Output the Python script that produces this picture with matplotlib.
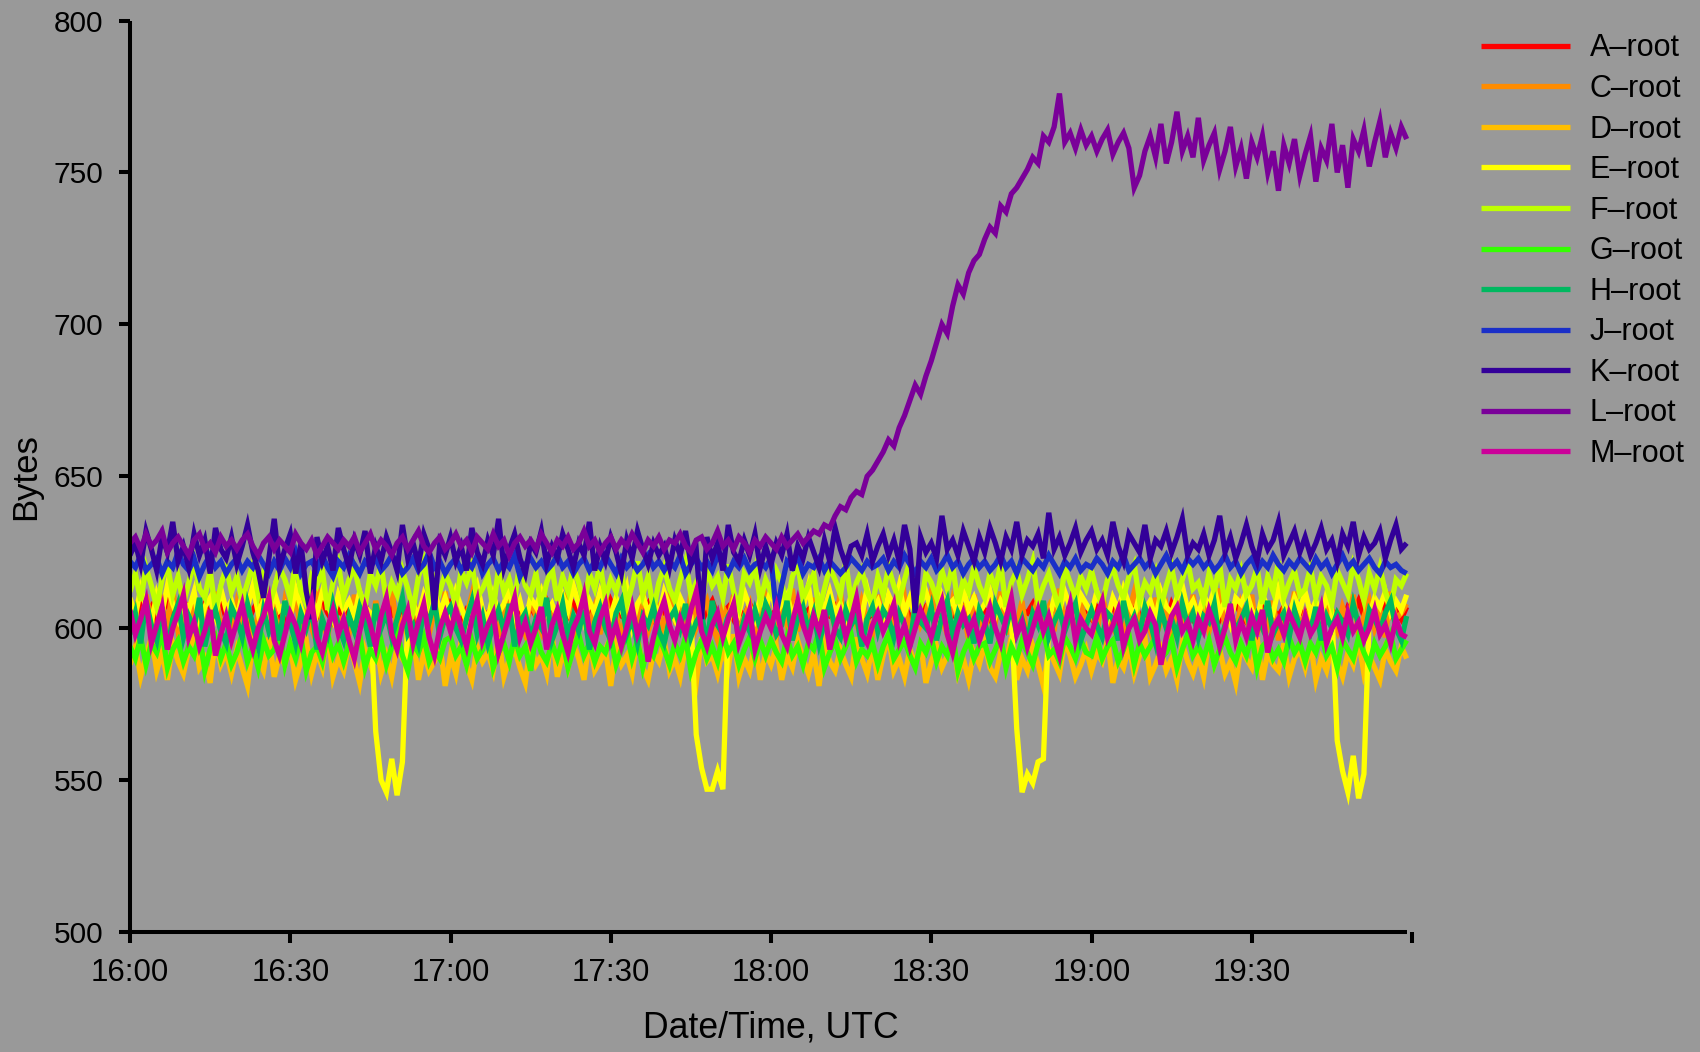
import matplotlib
matplotlib.use("Agg")
import matplotlib.pyplot as plt
import numpy as np

plt.rcParams["font.family"] = ["Liberation Sans", "DejaVu Sans"]

# ─────────────────────────────────────────────────────────────
# Datos (una muestra por minuto desde las 16:00 UTC)
# ─────────────────────────────────────────────────────────────

x_ticks = [0, 30, 60, 90, 120, 150, 180, 210, 240]
x_tick_labels = ["16:00", "16:30", "17:00", "17:30", "18:00", "18:30", "19:00", "19:30", ""]
y_ticks = [500, 550, 600, 650, 700, 750, 800]

a_root = [
    606, 603, 608, 604, 607, 602, 605, 609, 604, 606, 601, 607, 605, 603, 608, 604, 606, 610, 603, 605,
    607, 604, 602, 606, 609, 603, 605, 607, 604, 601, 606, 608, 605, 603, 607, 604, 609, 605, 602, 606,
    604, 607, 603, 605, 608, 602, 606, 604, 609, 605, 603, 607, 604, 606, 601, 605, 608, 604, 606, 603,
    608, 605, 602, 606, 604, 609, 603, 605, 607, 604, 602, 606, 608, 605, 603, 607, 604, 606, 609, 605,
    603, 606, 604, 608, 605, 602, 607, 604, 606, 603, 609, 605, 604, 607, 602, 606, 605, 608, 603, 606,
    605, 608, 604, 606, 603, 607, 605, 602, 606, 609, 604, 605, 607, 603, 606, 604, 608, 605, 602, 607,
    604, 606, 609, 605, 603, 607, 604, 606, 602, 608, 605, 604, 607, 603, 605, 609, 604, 606, 603, 605,
    607, 604, 606, 602, 605, 608, 603, 606, 604, 607, 605, 602, 606, 609, 604, 605, 607, 603, 606, 604,
    606, 603, 607, 605, 609, 604, 602, 606, 605, 608, 603, 606, 604, 607, 605, 602, 608, 604, 606, 605,
    603, 607, 605, 604, 608, 602, 606, 605, 609, 604, 603, 607, 605, 606, 602, 608, 604, 605, 607, 603,
    605, 608, 604, 606, 603, 607, 605, 609, 604, 602, 606, 605, 608, 603, 606, 604, 607, 605, 602, 606,
    604, 607, 605, 603, 608, 606, 604, 602, 607, 605, 609, 604, 606, 603, 605, 608, 604, 606, 603, 607,
]

c_root = [
    600, 606, 598, 611, 603, 597, 608, 601, 613, 599, 605, 596, 609, 602, 607, 598, 612, 600, 604, 597,
    608, 601, 610, 598, 604, 612, 599, 606, 597, 609, 603, 611, 598, 605, 600, 613, 602, 597, 607, 601,
    604, 598, 611, 602, 607, 596, 609, 601, 605, 613, 599, 603, 597, 610, 602, 608, 598, 606, 600, 612,
    601, 607, 597, 604, 611, 599, 606, 602, 609, 596, 605, 612, 600, 603, 598, 610, 604, 599, 608, 602,
    606, 600, 612, 597, 603, 609, 601, 607, 598, 611, 602, 605, 596, 608, 603, 600, 613, 599, 604, 607,
    598, 610, 603, 606, 597, 612, 600, 605, 609, 601, 596, 607, 603, 611, 599, 604, 608, 597, 602, 610,
    603, 597, 608, 601, 613, 599, 606, 602, 610, 598, 604, 607, 600, 612, 596, 605, 601, 609, 603, 598,
    611, 602, 606, 599, 604, 610, 597, 608, 601, 605, 612, 600, 603, 598, 609, 602, 606, 596, 611, 604,
    599, 607, 602, 612, 598, 605, 601, 609, 596, 604, 610, 603, 607, 599, 613, 601, 605, 598, 608, 602,
    606, 598, 611, 603, 600, 608, 597, 605, 612, 601, 604, 599, 610, 602, 607, 596, 609, 603, 600, 611,
    602, 609, 599, 606, 613, 600, 604, 597, 608, 603, 611, 598, 605, 601, 609, 596, 606, 602, 612, 599,
    605, 601, 608, 597, 610, 603, 599, 607, 602, 611, 598, 604, 609, 600, 606, 597, 612, 603, 605, 608,
]

d_root = [
    588, 594, 584, 591, 597, 586, 592, 583, 595, 589, 585, 593, 598, 587, 590, 582, 596, 588, 592, 585,
    593, 587, 581, 595, 590, 586, 597, 584, 591, 588, 594, 583, 589, 596, 585, 592, 587, 599, 584, 590,
    586, 595, 589, 582, 593, 588, 597, 585, 591, 584, 594, 590, 587, 598, 583, 592, 586, 589, 595, 581,
    591, 585, 596, 588, 583, 594, 589, 592, 586, 597, 584, 590, 593, 587, 582, 595, 588, 591, 585, 598,
    584, 592, 587, 595, 590, 583, 596, 586, 589, 593, 581, 594, 588, 591, 585, 597, 587, 583, 592, 589,
    596, 586, 590, 584, 594, 588, 582, 597, 589, 591, 585, 593, 587, 598, 584, 590, 586, 595, 583, 592,
    588, 594, 583, 591, 587, 596, 590, 585, 592, 581, 595, 589, 586, 593, 588, 584, 597, 590, 585, 594,
    583, 591, 597, 586, 590, 584, 593, 588, 595, 582, 589, 594, 587, 591, 596, 585, 590, 583, 592, 588,
    595, 587, 584, 592, 589, 597, 583, 590, 586, 594, 588, 581, 593, 589, 585, 596, 591, 584, 588, 593,
    586, 592, 589, 596, 582, 590, 587, 594, 585, 591, 597, 584, 588, 593, 586, 590, 583, 595, 589, 585,
    591, 584, 596, 588, 593, 585, 589, 582, 594, 590, 587, 597, 583, 592, 588, 586, 595, 584, 590, 593,
    587, 595, 583, 590, 586, 594, 589, 584, 592, 588, 596, 585, 591, 587, 583, 593, 589, 586, 594, 590,
]

e_root = [
    610, 604, 613, 607, 602, 611, 605, 614, 608, 603, 609, 606, 612, 601, 607, 610, 604, 613, 606, 609,
    603, 611, 607, 614, 605, 609, 602, 612, 606, 608, 604, 613, 607, 601, 610, 605, 612, 608, 603, 611,
    606, 609, 604, 612, 607, 605, 566, 550, 546, 557, 545, 556, 603, 608, 604, 611, 606, 613, 605, 610,
    604, 612, 607, 602, 609, 614, 606, 603, 611, 605, 608, 613, 604, 609, 602, 610, 607, 612, 605, 608,
    603, 611, 606, 614, 608, 602, 609, 605, 612, 607, 604, 610, 606, 613, 601, 608, 611, 605, 609, 604,
    612, 607, 603, 610, 606, 604, 565, 554, 547, 547, 553, 547, 602, 609, 605, 612, 607, 603, 610, 606,
    613, 605, 608, 611, 604, 609, 607, 614, 602, 610, 606, 612, 605, 608, 603, 611, 607, 604, 613, 606,
    609, 603, 611, 607, 614, 605, 610, 604, 608, 612, 606, 603, 611, 607, 609, 604, 613, 606, 610, 605,
    608, 612, 604, 609, 606, 603, 567, 546, 552, 549, 556, 557, 602, 610, 606, 612, 607, 604, 611, 608,
    605, 612, 607, 603, 610, 606, 613, 608, 604, 611, 606, 609, 603, 612, 607, 605, 610, 614, 606, 609,
    604, 611, 607, 613, 605, 609, 602, 610, 608, 612, 606, 603, 611, 607, 605, 613, 608, 604, 610, 606,
    612, 605, 609, 603, 611, 606, 563, 553, 546, 558, 544, 552, 604, 610, 607, 612, 605, 609, 606, 611,
]

f_root = [
    612, 618, 609, 620, 614, 607, 616, 621, 611, 617, 608, 615, 622, 613, 610, 619, 606, 614, 620, 612,
    617, 609, 615, 621, 611, 618, 607, 613, 620, 616, 610, 622, 612, 608, 617, 614, 619, 606, 615, 621,
    610, 616, 620, 612, 607, 618, 614, 621, 609, 615, 611, 619, 613, 606, 617, 622, 610, 616, 612, 618,
    614, 608, 619, 615, 621, 610, 613, 617, 606, 620, 612, 616, 609, 622, 614, 611, 618, 607, 615, 620,
    609, 617, 612, 620, 615, 607, 618, 613, 621, 610, 616, 612, 619, 608, 614, 622, 611, 617, 606, 615,
    620, 613, 609, 616, 622, 611, 615, 608, 619, 614, 617, 610, 621, 612, 607, 618, 615, 620, 609, 616,
    612, 619, 615, 607, 617, 621, 610, 614, 618, 606, 613, 620, 616, 611, 622, 609, 615, 619, 612, 608,
    617, 611, 620, 614, 609, 616, 622, 612, 607, 618, 615, 610, 619, 613, 621, 608, 616, 612, 620, 614,
    610, 618, 613, 621, 607, 615, 619, 611, 616, 622, 609, 614, 618, 612, 606, 620, 615, 610, 617, 613,
    619, 612, 608, 616, 620, 614, 610, 617, 621, 609, 615, 612, 618, 607, 614, 620, 611, 616, 622, 613,
    615, 609, 618, 612, 621, 607, 616, 613, 619, 611, 614, 620, 608, 617, 612, 622, 610, 615, 619, 611,
    613, 620, 610, 617, 614, 608, 619, 615, 611, 621, 616, 609, 618, 613, 620, 612, 607, 616, 614, 618,
]

g_root = [
    594, 590, 597, 588, 595, 592, 599, 587, 593, 596, 589, 594, 591, 598, 586, 593, 597, 590, 595, 588,
    592, 598, 589, 594, 587, 596, 591, 593, 599, 588, 595, 590, 597, 586, 592, 594, 589, 598, 591, 595,
    589, 595, 592, 598, 587, 593, 590, 596, 588, 594, 599, 591, 586, 595, 592, 597, 589, 593, 590, 596,
    597, 591, 594, 588, 596, 590, 593, 599, 587, 592, 595, 589, 597, 591, 594, 586, 598, 592, 589, 595,
    590, 596, 587, 593, 598, 591, 595, 589, 594, 592, 597, 588, 593, 599, 590, 596, 587, 594, 591, 597,
    593, 588, 595, 591, 597, 586, 592, 596, 590, 594, 589, 598, 592, 595, 588, 593, 597, 590, 596, 591,
    596, 592, 589, 597, 591, 594, 588, 595, 593, 599, 587, 592, 596, 590, 594, 598, 589, 593, 591, 595,
    588, 594, 598, 590, 593, 596, 591, 587, 595, 592, 597, 589, 594, 591, 598, 586, 592, 596, 590, 594,
    595, 589, 593, 597, 587, 594, 590, 596, 592, 588, 595, 599, 591, 593, 589, 597, 594, 590, 596, 592,
    591, 597, 590, 594, 596, 589, 593, 598, 588, 595, 591, 594, 597, 590, 592, 596, 587, 593, 598, 591,
    594, 590, 596, 588, 593, 597, 592, 589, 595, 591, 598, 587, 594, 596, 590, 593, 589, 597, 592, 595,
    589, 595, 592, 598, 591, 594, 587, 596, 593, 590, 597, 592, 588, 595, 591, 594, 598, 590, 593, 596,
]

h_root = [
    598, 605, 595, 609, 601, 596, 607, 593, 603, 608, 597, 604, 600, 610, 594, 602, 606, 599, 595, 607,
    603, 597, 608, 601, 594, 606, 599, 604, 596, 609, 602, 595, 605, 600, 607, 593, 603, 598, 608, 601,
    596, 604, 599, 607, 602, 594, 608, 600, 605, 597, 603, 610, 598, 601, 595, 606, 602, 609, 597, 604,
    607, 600, 596, 603, 609, 598, 604, 595, 601, 606, 599, 608, 594, 602, 605, 597, 603, 600, 610, 596,
    601, 608, 597, 604, 599, 606, 593, 602, 607, 600, 596, 605, 609, 598, 603, 595, 604, 601, 607, 599,
    595, 603, 606, 600, 608, 597, 602, 605, 594, 609, 601, 598, 604, 607, 596, 603, 599, 606, 600, 608,
    604, 598, 601, 609, 596, 603, 607, 599, 605, 595, 602, 608, 600, 597, 606, 601, 604, 594, 603, 607,
    599, 606, 603, 597, 605, 601, 594, 608, 602, 600, 607, 596, 604, 609, 598, 605, 601, 603, 595, 606,
    602, 595, 608, 604, 600, 607, 598, 603, 596, 605, 601, 609, 597, 602, 606, 599, 604, 608, 596, 601,
    606, 601, 597, 605, 603, 596, 609, 600, 604, 598, 607, 602, 595, 606, 600, 603, 597, 608, 601, 605,
    597, 604, 602, 608, 595, 601, 606, 599, 603, 607, 596, 604, 600, 609, 598, 602, 605, 597, 606, 600,
    603, 599, 607, 596, 604, 600, 605, 602, 598, 608, 601, 597, 606, 603, 599, 605, 609, 600, 596, 604,
]

j_root = [
    622, 620, 624, 619, 621, 623, 618, 622, 620, 625, 621, 619, 623, 617, 621, 624, 620, 622, 618, 621,
    623, 619, 622, 620, 624, 621, 618, 622, 619, 623, 620, 625, 618, 621, 622, 619, 624, 620, 617, 622,
    620, 624, 621, 618, 622, 620, 623, 619, 621, 624, 622, 618, 620, 623, 619, 621, 625, 620, 622, 618,
    621, 623, 619, 622, 620, 624, 618, 621, 623, 619, 622, 620, 624, 617, 621, 623, 620, 622, 619, 621,
    624, 620, 622, 618, 621, 623, 619, 622, 620, 624, 621, 618, 623, 620, 622, 619, 621, 624, 620, 622,
    619, 622, 620, 624, 618, 621, 623, 620, 622, 619, 624, 621, 618, 622, 620, 623, 619, 621, 622, 620,
    623, 605, 614, 622, 620, 624, 618, 621, 620, 623, 619, 622, 620, 618, 620, 623, 621, 619, 622, 620,
    621, 623, 619, 622, 620, 624, 621, 618, 622, 620, 623, 619, 621, 624, 620, 622, 618, 621, 623, 620,
    622, 619, 621, 624, 620, 622, 618, 623, 621, 619, 622, 620, 624, 621, 618, 622, 620, 623, 619, 621,
    620, 623, 621, 618, 622, 620, 624, 619, 621, 623, 620, 622, 618, 621, 624, 620, 622, 619, 623, 621,
    623, 620, 622, 619, 621, 624, 620, 622, 618, 621, 623, 619, 622, 620, 624, 621, 619, 622, 620, 623,
    621, 619, 623, 620, 622, 618, 621, 624, 620, 622, 619, 621, 623, 620, 618, 622, 620, 621, 619, 618,
]

k_root = [
    624, 628, 621, 632, 626, 619, 630, 625, 635, 622, 627, 620, 631, 624, 629, 618, 633, 626, 623, 630,
    621, 627, 634, 625, 619, 610, 623, 636, 620, 626, 631, 618, 628, 612, 603, 630, 622, 627, 619, 633,
    626, 620, 629, 624, 632, 618, 627, 622, 630, 625, 619, 634, 623, 628, 621, 631, 626, 606, 628, 624,
    630, 622, 627, 619, 633, 625, 621, 629, 624, 636, 620, 626, 631, 623, 618, 628, 625, 632, 621, 627,
    623, 631, 626, 620, 628, 624, 635, 619, 627, 622, 630, 625, 618, 629, 623, 632, 626, 621, 628, 624,
    627, 620, 629, 624, 632, 621, 626, 603, 630, 623, 628, 619, 634, 625, 622, 629, 624, 631, 620, 627,
    621, 628, 624, 631, 619, 627, 623, 630, 625, 620, 629, 622, 633, 626, 621, 627, 628, 624, 631, 622,
    627, 631, 624, 629, 622, 634, 626, 605, 630, 625, 628, 623, 637, 626, 629, 624, 632, 627, 622, 630,
    625, 633, 628, 622, 630, 626, 635, 624, 629, 627, 631, 623, 638, 626, 630, 624, 628, 633, 625, 629,
    632, 626, 629, 624, 635, 627, 622, 631, 628, 625, 634, 623, 629, 627, 632, 625, 630, 636, 624, 628,
    626, 631, 624, 629, 637, 625, 630, 623, 628, 634, 627, 622, 631, 626, 629, 635, 624, 628, 632, 625,
    630, 624, 628, 633, 626, 629, 622, 631, 627, 635, 624, 630, 626, 628, 632, 623, 629, 634, 626, 628,
]

l_root = [
    628, 630, 626, 631, 627, 629, 632, 625, 628, 630, 627, 624, 629, 631, 626, 628, 625, 630, 627, 629,
    626, 629, 631, 627, 624, 628, 630, 626, 629, 627, 625, 631, 628, 626, 629, 624, 627, 630, 628, 626,
    629, 627, 630, 625, 628, 631, 626, 629, 627, 624, 628, 630, 626, 629, 632, 627, 625, 628, 630, 626,
    628, 631, 627, 629, 625, 630, 628, 626, 631, 627, 629, 624, 628, 630, 627, 629, 626, 631, 628, 625,
    629, 627, 630, 626, 628, 632, 627, 629, 625, 628, 630, 626, 629, 627, 631, 628, 625, 629, 627, 630,
    626, 629, 628, 631, 627, 625, 629, 630, 626, 628, 632, 627, 629, 626, 630, 628, 625, 629, 627, 630,
    628, 626, 630, 627, 629, 631, 628, 630, 632, 631, 634, 633, 637, 640, 639, 643, 645, 644, 650, 652,
    655, 658, 662, 660, 666, 670, 675, 680, 677, 683, 688, 694, 700, 697, 706, 713, 710, 717, 721, 723,
    728, 732, 730, 739, 737, 743, 745, 748, 751, 755, 753, 762, 760, 765, 776, 760, 763, 758, 764, 759,
    762, 757, 761, 764, 756, 760, 763, 758, 745, 749, 757, 762, 755, 766, 753, 760, 770, 757, 762, 755,
    768, 754, 759, 763, 751, 757, 765, 752, 758, 748, 760, 755, 762, 750, 757, 744, 759, 753, 761, 749,
    756, 762, 747, 758, 754, 766, 750, 759, 745, 761, 757, 764, 752, 760, 767, 755, 763, 758, 765, 761,
]

m_root = [
    606, 598, 603, 609, 595, 601, 607, 593, 600, 605, 611, 597, 602, 594, 599, 606, 591, 598, 604, 596,
    602, 608, 599, 593, 600, 604, 610, 596, 591, 598, 605, 601, 595, 603, 609, 597, 592, 600, 606, 598,
    603, 596, 590, 599, 607, 601, 594, 604, 610, 598, 593, 601, 606, 595, 602, 608, 597, 591, 600, 605,
    599, 606, 600, 594, 603, 609, 596, 601, 605, 592, 598, 604, 610, 597, 602, 595, 600, 607, 593, 601,
    606, 598, 592, 600, 604, 611, 599, 595, 603, 608, 596, 601, 594, 600, 607, 598, 603, 589, 597, 604,
    609, 601, 596, 603, 598, 606, 612, 599, 594, 601, 605, 597, 603, 608, 595, 600, 606, 593, 599, 604,
    600, 607, 598, 594, 602, 609, 601, 596, 604, 599, 606, 593, 600, 605, 597, 603, 610, 598, 595, 601,
    605, 599, 603, 608, 596, 601, 594, 600, 606, 602, 597, 604, 609, 598, 592, 600, 605, 599, 603, 596,
    601, 607, 600, 595, 603, 610, 598, 602, 594, 600, 606, 599, 604, 597, 591, 601, 608, 596, 603, 600,
    598, 604, 609, 597, 601, 606, 594, 600, 603, 596, 599, 605, 601, 588, 597, 604, 607, 599, 602, 596,
    603, 599, 606, 601, 594, 600, 608, 596, 602, 597, 604, 599, 606, 592, 600, 603, 598, 605, 601, 597,
    604, 598, 601, 607, 595, 600, 603, 597, 605, 599, 602, 596, 600, 606, 598, 601, 595, 603, 598, 597,
]

series_names = ["A\u2013root", "C\u2013root", "D\u2013root", "E\u2013root", "F\u2013root", "G\u2013root",
                "H\u2013root", "J\u2013root", "K\u2013root", "L\u2013root", "M\u2013root"]
series_values = [a_root, c_root, d_root, e_root, f_root, g_root, h_root, j_root, k_root, l_root, m_root]
series_colors = ["#FF0000", "#FF8C00", "#FFBF00", "#FFFF00", "#BFFF00", "#33FF00",
                 "#00B860", "#1A2FC8", "#330099", "#7A0099", "#CC0099"]

BG = "#999999"

# ─────────────────────────────────────────────────────────────
# Figura
# ─────────────────────────────────────────────────────────────

fig = plt.figure(figsize=(17, 10.52), dpi=100, facecolor=BG)
ax = fig.add_axes([130 / 1700, 1 - 932 / 1052, (1412 - 130) / 1700, (932 - 20.6) / 1052])
ax.set_facecolor(BG)

for nombre, valores, color in zip(series_names, series_values, series_colors):
    ax.plot(np.arange(len(valores)), valores, color=color, lw=3.8,
            solid_joinstyle="miter", solid_capstyle="butt", label=nombre)

ax.set_xlim(0, 240)
ax.set_ylim(500, 800)
ax.set_xticks(x_ticks)
ax.set_xticklabels(x_tick_labels)
ax.set_yticks(y_ticks)

for lado in ["top", "right"]:
    ax.spines[lado].set_visible(False)
for lado in ["left", "bottom"]:
    ax.spines[lado].set_linewidth(2.9)
    ax.spines[lado].set_color("black")
    ax.spines[lado].set_capstyle("butt")
# la línea del eje x termina en el último dato, la marca de las 20:00 queda suelta
ax.spines["bottom"].set_bounds(0, 239)

ax.tick_params(axis="both", length=8, width=2.9, colors="black")
ax.tick_params(axis="y", pad=11, labelsize=21.5)
ax.tick_params(axis="x", pad=10.5, labelsize=22.5)

fig.text(771 / 1700, 1 - 1028 / 1052, "Date/Time, UTC", fontsize=25.7, ha="center", va="center")
fig.text(26 / 1700, 1 - 477 / 1052, "Bytes", fontsize=25, ha="center", va="center", rotation=90)

fig.legend(
    loc="upper left",
    bbox_to_anchor=(1481 / 1700, 1 - 33.5 / 1052),
    frameon=False,
    fontsize=22,
    handlelength=2.9,
    handletextpad=0.65,
    labelspacing=0.345,
    borderpad=0,
    borderaxespad=0,
)

fig.savefig("out.png", dpi=100, facecolor=BG)
